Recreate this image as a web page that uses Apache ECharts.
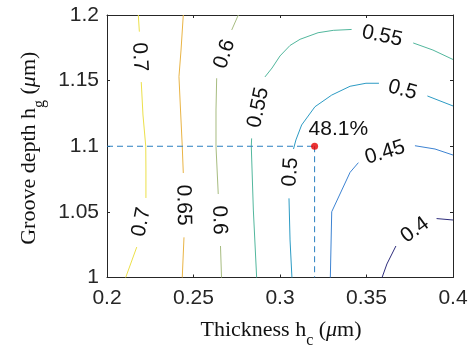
<!DOCTYPE html>
<html><head><meta charset="utf-8">
<script src="https://cdn.jsdelivr.net/npm/echarts@6/dist/echarts.min.js"></script>
<style>html,body{margin:0;padding:0;background:#fff}#c{width:473px;height:347px}</style>
</head><body><div id="c"></div>
<script>
// ---- data ----
const xRange = [0.2, 0.4];
const yRange = [1.0, 1.2];
const tickStep = 0.05;
const levels = [0.4, 0.45, 0.5, 0.55, 0.6, 0.65, 0.7];
// contour line segments (thickness, groove depth), split where labels sit
const c070 = [
  [[0.2181,1.2],[0.2187,1.1873]],
  [[0.2198,1.1489],[0.2208,1.1238],[0.2224,1.1],[0.2225,1.0819],[0.2225,1.0606]],
  [[0.2172,1.0232],[0.2108,1.0]]
];
const c065 = [
  [[0.2441,1.2],[0.2428,1.1733],[0.2416,1.153],[0.2425,1.1276],[0.2435,1.1],[0.2441,1.0796]],
  [[0.2445,1.0306],[0.2435,1.0]]
];
const c060 = [
  [[0.2759,1.2],[0.2721,1.1886]],
  [[0.2634,1.1518],[0.263,1.1276],[0.263,1.1],[0.2643,1.0636]],
  [[0.2656,1.024],[0.2662,1.0]]
];
const c055 = [
  [[0.2913,1.1528],[0.2954,1.1596],[0.3,1.1688],[0.3058,1.1768],[0.3116,1.1815],[0.322,1.1865],[0.3308,1.1883],[0.3414,1.189]],
  [[0.377,1.1787],[0.3884,1.1733],[0.4,1.1661]],
  [[0.2836,1.106],[0.2834,1.1],[0.2846,1.0514],[0.2865,1.0]]
];
const c050 = [
  [[0.3078,1.0979],[0.3092,1.1048],[0.3125,1.1162],[0.3202,1.1301],[0.3299,1.139],[0.3405,1.1457],[0.3497,1.148],[0.3572,1.148]],
  [[0.3852,1.1383],[0.4,1.1307]],
  [[0.3052,1.0603],[0.3058,1.0286],[0.3069,1.0]]
];
const c045 = [
  [[0.378,1.1004],[0.3896,1.0979],[0.4,1.0933]],
  [[0.3453,1.0875],[0.3405,1.0801],[0.3299,1.0501],[0.3291,1.0]]
];
const c040 = [
  [[0.3905,1.0449],[0.4,1.0438]],
  [[0.367,1.024],[0.3618,1.0103],[0.359,1.0]]
];
// contour labels: text, thickness, depth, angle (deg, counter-clockwise)
const contourLabels = [
  ['0.7', 0.2188, 1.168, -87],
  ['0.6', 0.2679, 1.1703, 72],
  ['0.55', 0.2875, 1.1295, 78],
  ['0.55', 0.359, 1.184, -12],
  ['0.5', 0.3708, 1.1429, -15],
  ['0.5', 0.3061, 1.0804, 86],
  ['0.45', 0.3607, 1.0952, 17],
  ['0.4', 0.378, 1.0362, 36],
  ['0.7', 0.2199, 1.0423, 79],
  ['0.65', 0.2442, 1.0552, -89],
  ['0.6', 0.2649, 1.0438, -88]
];
const optimum = [0.32, 1.1];
const optimumLabel = '48.1%';

// ---- style ----
const levelColors = ['#2e2d7c', '#3d83d2', '#2c9bc4', '#52b79d', '#a7bc80', '#e9b445', '#ece04a'];
const sans = '"Liberation Sans", Arial, Helvetica, sans-serif';
const serif = '"Liberation Serif", "Times New Roman", serif';
const axisColor = '#262626';

const contours = [c040, c045, c050, c055, c060, c065, c070];
const series = [];
contours.forEach((segs, i) => {
  segs.forEach(seg => series.push({
    type: 'line', data: seg, symbol: 'none', silent: true, animation: false, z: 2,
    lineStyle: { color: levelColors[i], width: 1 }
  }));
});
const dashStyle = { color: '#2a7fc0', width: 1, type: [6, 4] };
series.push({ type: 'line', data: [[xRange[0], optimum[1]], optimum], symbol: 'none', silent: true, animation: false, z: 3, lineStyle: dashStyle });
series.push({ type: 'line', data: [optimum, [optimum[0], yRange[0]]], symbol: 'none', silent: true, animation: false, z: 3, lineStyle: dashStyle });
series.push({
  type: 'scatter', data: [optimum], symbolSize: 7, animation: false, z: 5, silent: true,
  itemStyle: { color: '#e60000' }
});

function axisCommon(pos, showLabel) {
  return {
    type: 'value', position: pos, interval: tickStep,
    axisLine: { show: true, onZero: false, lineStyle: { color: axisColor, width: 1 } },
    axisTick: { show: true, inside: true, length: 3, lineStyle: { color: axisColor } },
    splitLine: { show: false },
    axisLabel: { show: showLabel, fontSize: 21, fontFamily: sans, color: axisColor,
                 margin: (pos === 'bottom' ? 10 : 8) }
  };
}
const chart = echarts.init(document.getElementById('c'), null, { renderer: 'canvas' });
chart.setOption({
  animation: false,
  backgroundColor: '#fff',
  grid: { left: 107, top: 15, right: 20, bottom: 69.5, outerBoundsMode: 'none', containLabel: false },
  xAxis: [
    Object.assign(axisCommon('bottom', true), { min: xRange[0], max: xRange[1] }),
    Object.assign(axisCommon('top', false), { min: xRange[0], max: xRange[1] })
  ],
  yAxis: [
    Object.assign(axisCommon('left', true), { min: yRange[0], max: yRange[1] }),
    Object.assign(axisCommon('right', false), { min: yRange[0], max: yRange[1] })
  ],
  series: series
});

const graphics = contourLabels.map(([t, x, y, r]) => {
  const p = chart.convertToPixel({ xAxisIndex: 0, yAxisIndex: 0 }, [x, y]);
  return { type: 'text', x: p[0], y: p[1], rotation: r * Math.PI / 180, z: 10, silent: true,
    style: { text: t, fill: '#111', fontSize: 21, fontFamily: sans, align: 'center', verticalAlign: 'middle' } };
});
const op = chart.convertToPixel({ xAxisIndex: 0, yAxisIndex: 0 }, optimum);
graphics.push({ type: 'text', x: op[0] - 6, y: op[1] - 17, z: 10, silent: true,
  style: { text: optimumLabel, fill: '#111', fontSize: 21, fontFamily: sans, align: 'left', verticalAlign: 'middle' } });
const richT = {
  a: { fontFamily: serif, fontSize: 22, lineHeight: 37, verticalAlign: 'middle', fill: '#111' },
  i: { fontFamily: serif, fontSize: 22, fontStyle: 'italic', lineHeight: 37, verticalAlign: 'middle', fill: '#111' },
  s: { fontFamily: serif, fontSize: 16, lineHeight: 12, verticalAlign: 'bottom', fill: '#111' }
};
const plotL = chart.convertToPixel({ xAxisIndex: 0 }, xRange[0]);
const plotR = chart.convertToPixel({ xAxisIndex: 0 }, xRange[1]);
const plotT = chart.convertToPixel({ yAxisIndex: 0 }, yRange[1]);
const plotB = chart.convertToPixel({ yAxisIndex: 0 }, yRange[0]);
graphics.push({ type: 'text', x: (plotL + plotR) / 2 + 1, y: plotB + 53, silent: true,
  style: { text: '{a|Thickness h}{s|c}{a| (}{i|μ}{a|m)}', rich: richT, align: 'center', verticalAlign: 'middle' } });
graphics.push({ type: 'text', x: plotL - 78, y: (plotT + plotB) / 2 + 2, rotation: Math.PI / 2, silent: true,
  style: { text: '{a|Groove depth h}{s|g}{a| (}{i|μ}{a|m)}', rich: richT, align: 'center', verticalAlign: 'middle' } });
chart.setOption({ graphic: graphics });
</script></body></html>
